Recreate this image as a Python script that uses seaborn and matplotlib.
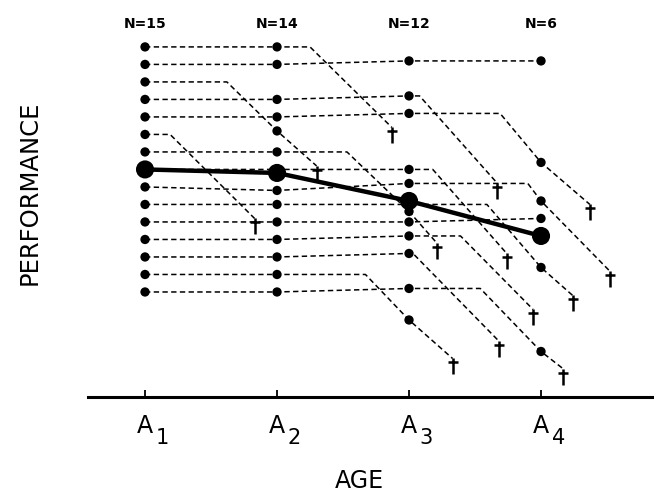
import numpy as np
import pandas as pd
import seaborn as sns
from matplotlib import pyplot as plt
from matplotlib.path import Path

nan = np.nan

ages = [1, 2, 3, 4]
age_subs = ['1', '2', '3', '4']
n_labels = ['N=15', 'N=14', 'N=12', 'N=6']

# performance of the 15 people at each wave (nan = died before that wave)
score_a1 = [100, 95, 90, 85, 80, 75, 70, 65, 60, 55, 50, 45, 40, 35, 30]
score_a2 = [100, 95, 76, 85, 80, nan, 70, 65, 59, 55, 50, 45, 40, 35, 30]
score_a3 = [nan, 96, nan, 86, 81, nan, 53, 65, 61, 55, 50, 46, 41, 22, 31]
score_a4 = [nan, 96, nan, nan, 67, nan, nan, nan, 56, 37, 51, nan, nan, nan, 13]

# start of the terminal drop and the point of death
drop_age = [2.25, nan, 1.62, 3.08, 3.69, 1.19, 2.53, 3.18, 3.90, 3.59, nan, 3.39, 3.03, 2.67, 3.54]
drop_perf = [100, nan, 90, 86, 81, 75, 70, 65, 61, 55, nan, 46, 41, 35, 31]
death_age = [2.87, nan, 2.30, 3.67, 4.37, 1.83, 3.21, 3.74, 4.52, 4.24, nan, 3.94, 3.68, 3.33, 4.17]
death_perf = [77, nan, 66, 61, 55, 51, 44, 41, 36, 29, nan, 25, 16, 11, 8]

mean_perf = [65, 64, 56, 46]


def build_tables():
    waves = [score_a1, score_a2, score_a3, score_a4]
    path_rows, obs_rows, death_rows = [], [], []
    for i in range(len(score_a1)):
        pts = []
        for a, w in zip(ages, waves):
            if not np.isnan(w[i]):
                pts.append((a, w[i]))
                obs_rows.append({'id': i, 'age': a, 'perf': w[i]})
        if not np.isnan(drop_age[i]):
            pts.append((drop_age[i], drop_perf[i]))
            pts.append((death_age[i], death_perf[i]))
            death_rows.append({'id': i, 'age': death_age[i], 'perf': death_perf[i]})
        pts.sort()
        for a, p in pts:
            path_rows.append({'id': i, 'age': a, 'perf': p})
    return pd.DataFrame(path_rows), pd.DataFrame(obs_rows), pd.DataFrame(death_rows)


paths, obs, deaths = build_tables()

sns.set_style('white')
plt.rcParams['font.family'] = ['DejaVu Sans']
plt.rcParams['text.color'] = 'black'
plt.rcParams['axes.labelcolor'] = 'black'
plt.rcParams['xtick.color'] = 'black'

fig = plt.figure(figsize=(6.54, 4.95), dpi=100)
ax = fig.add_axes([88 / 654, 98 / 495, 566 / 654, 397 / 495])

# individual trajectories
sns.lineplot(data=paths, x='age', y='perf', units='id', estimator=None, sort=False,
             color='black', lw=1.1, linestyle=(0, (3.5, 2.2)), ax=ax, zorder=2)
sns.scatterplot(data=obs, x='age', y='perf', s=45, color='black', edgecolor='none',
                ax=ax, zorder=3)

# dagger marker, top of the stem at the point of death
dagger = Path([(0, 0), (0, -1), (-0.32, -0.28), (0.32, -0.28)],
              [Path.MOVETO, Path.LINETO, Path.MOVETO, Path.LINETO])
sns.scatterplot(data=deaths, x='age', y='perf', marker=dagger, s=530, color='black',
                edgecolor='black', linewidth=1.8, ax=ax, zorder=3)

# group mean
sns.lineplot(x=ages, y=mean_perf, color='black', lw=3.2, ax=ax, zorder=4)
sns.scatterplot(x=ages, y=mean_perf, s=170, color='black', edgecolor='none', ax=ax, zorder=5)

for a, n in zip(ages, n_labels):
    ax.text(a, 106.5, n, ha='center', va='center', fontsize=10, fontweight='bold',
            color='black')

ax.set_xlim(0.568, 4.856)
ax.set_ylim(0, 113.4)
for side in ['left', 'right', 'top']:
    ax.spines[side].set_visible(False)
ax.spines['bottom'].set_linewidth(2.2)
ax.spines['bottom'].set_color('black')

ax.set_yticks([])
ax.set_xticks(ages, ['A'] * 4)
ax.tick_params(axis='x', direction='in', length=5, width=1.3, pad=12, labelsize=17,
               bottom=True, color='black', labelcolor='black')
for a, s in zip(ages, age_subs):
    ax.annotate(s, xy=(a, 0), xycoords=('data', 'axes fraction'), xytext=(12.5, -29.5),
                textcoords='offset points', ha='center', va='center', fontsize=15,
                color='black', annotation_clip=False)

ax.set_xlabel('AGE', fontsize=17, va='center', color='black')
ax.xaxis.set_label_coords(0.48, -0.212)
ax.set_ylabel('PERFORMANCE', fontsize=17.5, va='center', color='black')
ax.yaxis.set_label_coords(-0.104, 0.514)

fig.savefig('out.png', dpi=100)
